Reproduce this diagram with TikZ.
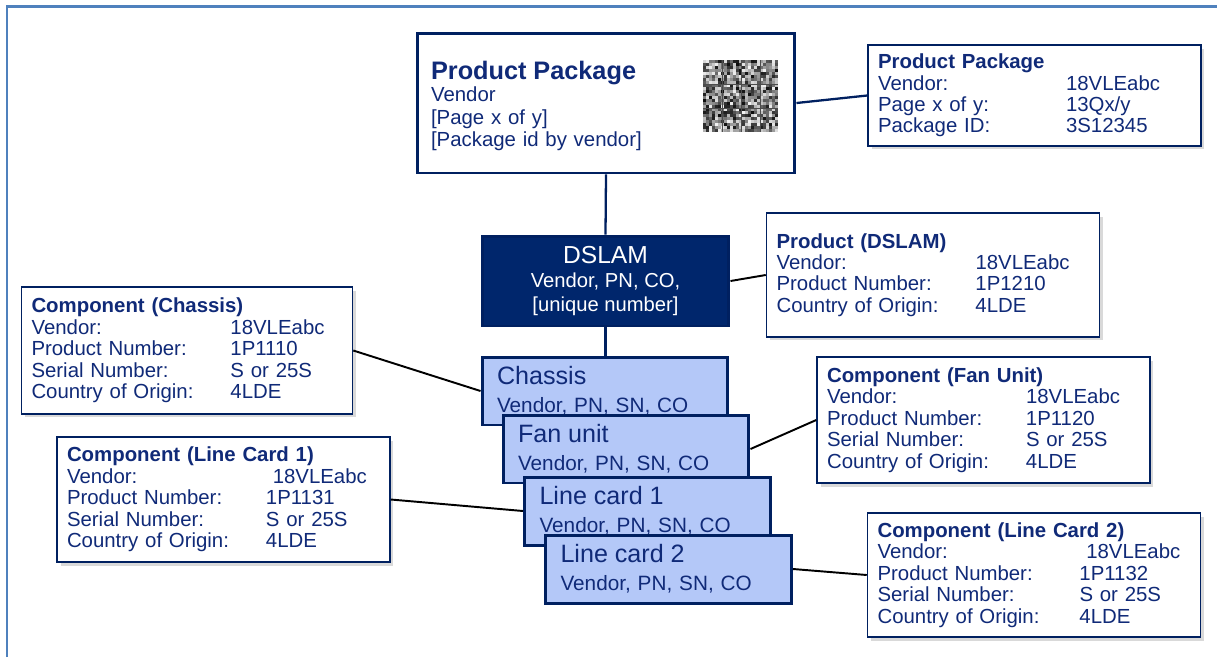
\documentclass[tikz,border=0pt]{standalone}
\usepackage{fontspec}
\setmainfont{Liberation Sans}
\usetikzlibrary{shadows}

\definecolor{navy}{RGB}{0,32,96}
\definecolor{dslamblue}{RGB}{0,38,108}
\definecolor{cardblue}{RGB}{180,200,248}
\definecolor{textblue}{RGB}{16,42,120}
\definecolor{frameblue}{RGB}{79,129,189}

\newcommand{\kv}[3][3.98cm]{\makebox[#1][l]{#2}#3}

\tikzset{
	infobox/.style={draw=navy, line width=0.9pt, fill=white, text=textblue, align=left,
		text width=6.26cm, inner xsep=0.2cm, inner ysep=0pt, minimum height=2.5cm,
		drop shadow={shadow xshift=0.07cm, shadow yshift=-0.07cm, opacity=0.3},
		font=\fontsize{11.6}{12.2}\selectfont},
	cardbox/.style={draw=navy, line width=1.7pt, fill=cardblue, text=textblue, align=left,
		text width=4.32cm, inner xsep=0.3cm, inner ysep=0pt, minimum height=1.36cm,
		font=\fontsize{11.8}{15.9}\selectfont},
	link/.style={line width=1.1pt},
	trunk/.style={navy, line width=1.3pt},
}

\begin{document}
\begin{tikzpicture}[x=0.02cm,y=-0.02cm]
	\useasboundingbox (0,0) rectangle (1217,657);
	\draw[frameblue, line width=1.7pt] (7,657) -- (7,6) -- (1217,6);
	
	\node[draw=navy, line width=1.7pt, fill=white, text=textblue, align=left, text width=7cm, inner xsep=0.28cm, minimum height=2.8cm, font=\fontsize{11.6}{12.8}\selectfont] (package) at (606,103) {{\fontsize{14.4}{15.5}\selectfont\bfseries\rule{0pt}{14pt}Product Package}\\Vendor\\{}[Page x of y]\\{}[Package id by vendor]};
	
	\pgfmathsetseed{17}
	\foreach \i in {0,...,24}{
		\foreach \j in {0,...,23}{
			\pgfmathrandominteger{\g}{5}{95}
			\fill[black!\g] ({703+3*\i},{60+3*\j}) rectangle +(3,3);
		}
	}
	\foreach \k in {722,741,760}
		\draw[black!70, line width=0.4pt] (\k,60) -- (\k,132);
	\foreach \k in {84,108}
		\draw[black!70, line width=0.4pt] (703,\k) -- (778,\k);
	
	\node[infobox, minimum height=2.02cm] (packageinfo) at (1034.5,95.5) {\textbf{Product Package}\\\kv[3.76cm]{Vendor:}{18VLEabc}\\\kv[3.76cm]{Page x of y:}{13Qx/y}\\\kv[3.76cm]{Package ID:}{3S12345}};
	
	\node[draw=navy, line width=1.7pt, fill=dslamblue, text=white, align=center, minimum width=4.94cm, minimum height=1.8cm, font=\fontsize{11.5}{13.6}\selectfont] (dslam) at (605.5,281) {{\fontsize{14}{15}\selectfont DSLAM}\\Vendor, PN, CO,\\{}[unique number]};
	
	\node[infobox, minimum height=2.48cm] (dslaminfo) at (933,275) {\textbf{Product (DSLAM)}\\\kv{Vendor:}{18VLEabc}\\\kv{Product Number:}{1P1210}\\\kv{Country of Origin:}{4LDE}};
	
	\draw[trunk] (package.south) -- (dslam.north);
	\draw[trunk] (dslam.south) -- (605.5,357);
	
	\node[cardbox] (chassis) at (605,391) {{\fontsize{14.3}{15.9}\selectfont Chassis}\\Vendor, PN, SN, CO};
	\node[cardbox] (fan) at (626,449) {{\fontsize{14.3}{15.9}\selectfont Fan unit}\\Vendor, PN, SN, CO};
	\node[cardbox] (card1) at (647.5,511) {{\fontsize{14.3}{15.9}\selectfont Line card 1}\\Vendor, PN, SN, CO};
	\node[cardbox] (card2) at (668.5,569) {{\fontsize{14.3}{15.9}\selectfont Line card 2}\\Vendor, PN, SN, CO};
	
	\node[infobox, text width=6.22cm, minimum height=2.54cm] (chassisinfo) at (187,350.5) {\textbf{Component (Chassis)}\\\kv{Vendor:}{18VLEabc}\\\kv{Product Number:}{1P1110}\\\kv{Serial Number:}{S or 25S}\\\kv{Country of Origin:}{4LDE}};
	\node[infobox, minimum height=2.52cm] (faninfo) at (983.5,420) {\textbf{Component (Fan Unit)}\\\kv{Vendor:}{18VLEabc}\\\kv{Product Number:}{1P1120}\\\kv{Serial Number:}{S or 25S}\\\kv{Country of Origin:}{4LDE}};
	\node[infobox, minimum height=2.5cm] (card1info) at (223.5,499.5) {\textbf{Component (Line Card 1)}\\\kv{Vendor:}{\ 18VLEabc}\\\kv{Product Number:}{1P1131}\\\kv{Serial Number:}{S or 25S}\\\kv{Country of Origin:}{4LDE}};
	\node[infobox, minimum height=2.48cm] (card2info) at (1034,575) {\textbf{Component (Line Card 2)}\\\kv[4.04cm]{Vendor:}{\ 18VLEabc}\\\kv[4.04cm]{Product Number:}{1P1132}\\\kv[4.04cm]{Serial Number:}{S or 25S}\\\kv[4.04cm]{Country of Origin:}{4LDE}};
	
	\draw[trunk] (package.east) -- (packageinfo.west);
	\draw[link] (dslam.east) -- (dslaminfo.west);
	\draw[link] (chassisinfo.east) -- (chassis.west);
	\draw[link] (fan.east) -- (faninfo.west);
	\draw[link] (card1info.east) -- (card1.west);
	\draw[link] (card2.east) -- (card2info.west);
\end{tikzpicture}
\end{document}
